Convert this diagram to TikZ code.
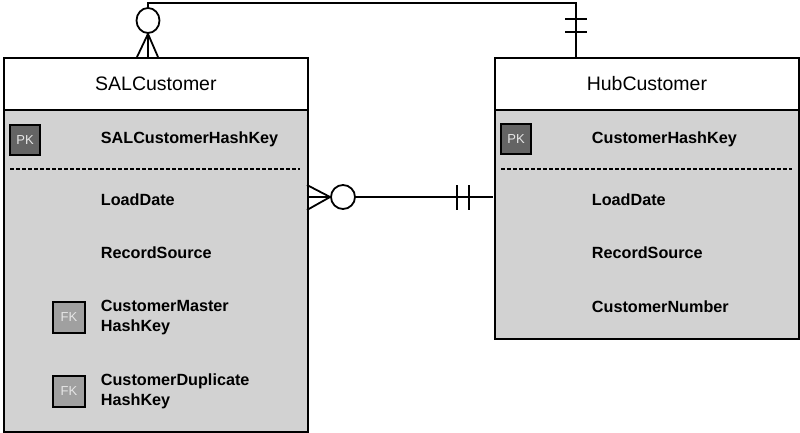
\documentclass[tikz,border=0pt]{standalone}
\usepackage{fontspec}
\setmainfont{Liberation Sans}
\usetikzlibrary{shapes.geometric}
\begin{document}
\begin{tikzpicture}[x=1pt,y=-1pt,
  line width=1.8pt,
  hdr/.style={draw=black, fill=white, anchor=north west, inner sep=0pt, font=\fontsize{19.5}{22}\selectfont},
  bodybox/.style={draw=black, fill=bodygray, anchor=north west, inner sep=0pt},
  field/.style={anchor=west, inner sep=0pt, align=left, font=\bfseries\fontsize{16.2}{20}\selectfont},
  keybox/.style={draw=black, line width=1.5pt, minimum width=30pt, minimum height=30pt, inner sep=0pt, text=keytext, font=\fontsize{13}{14}\selectfont},
  pkbox/.style={keybox, fill=pkgray},
  fkbox/.style={keybox, fill=fkgray, minimum width=32pt, minimum height=31pt},
  sep/.style={line width=1.1pt, dash pattern=on 4pt off 2pt},
  conn/.style={line width=1.8pt},
]
\definecolor{bodygray}{RGB}{210,210,210}
\definecolor{pkgray}{RGB}{100,100,100}
\definecolor{fkgray}{RGB}{160,160,160}
\definecolor{keytext}{RGB}{230,230,230}
\useasboundingbox (0,0) rectangle (800,433);

% SALCustomer
\node[bodybox, minimum width=304pt, minimum height=322pt] (salb) at (3,109) {};
\node[hdr, minimum width=304pt, minimum height=52pt] (salh) at (3,57) {SALCustomer};
\node[pkbox] (salpk) at (25,140) {PK};
\node[field] (salf1) at (100,139) {SALCustomerHashKey};
\draw[sep] (10,169) -- (300,169);
\node[field] (salf2) at (100,200) {LoadDate};
\node[field] (salf3) at (100,253) {RecordSource};
\node[fkbox] (salfk1) at (69,317.5) {FK};
\node[field] (salf4) at (100,317.5) {CustomerMaster\\HashKey};
\node[fkbox] (salfk2) at (69,391.5) {FK};
\node[field] (salf5) at (100,391) {CustomerDuplicate\\HashKey};

% HubCustomer
\node[bodybox, minimum width=304pt, minimum height=229pt] (hubb) at (494,109) {};
\node[hdr, minimum width=304pt, minimum height=52pt] (hubh) at (494,57) {HubCustomer};
\node[pkbox] (hubpk) at (516,139) {PK};
\node[field] (hubf1) at (591,139) {CustomerHashKey};
\draw[sep] (501,169) -- (792,169);
\node[field] (hubf2) at (591,200) {LoadDate};
\node[field] (hubf3) at (591,253) {RecordSource};
\node[field] (hubf4) at (591,307) {CustomerNumber};

% top relationship
\coordinate (ta) at (148,57);
\coordinate (tb) at (576,57);
\node[draw=black, conn, ellipse, minimum width=23pt, minimum height=25pt, inner sep=0pt] (tc) at (148,20.5) {};
\draw[conn] (tc.north) -- (148,3) -- (576,3) -- (tb);
\draw[conn] (137,57) -- (tc.south) -- (158,57);
\draw[conn] (tc.south) -- (ta);
\draw[conn] (565,19) -- (587,19);
\draw[conn] (565,32) -- (587,32);

% middle relationship
\coordinate (ma) at (307,197);
\coordinate (mb) at (493,197);
\node[draw=black, conn, circle, minimum size=24pt, inner sep=0pt] (mc) at (343,197) {};
\draw[conn] (307,185) -- (mc.west) -- (307,210);
\draw[conn] (ma) -- (mc.west);
\draw[conn] (mc.east) -- (mb);
\draw[conn] (457,185) -- (457,210);
\draw[conn] (469,185) -- (469,210);
\end{tikzpicture}
\end{document}
